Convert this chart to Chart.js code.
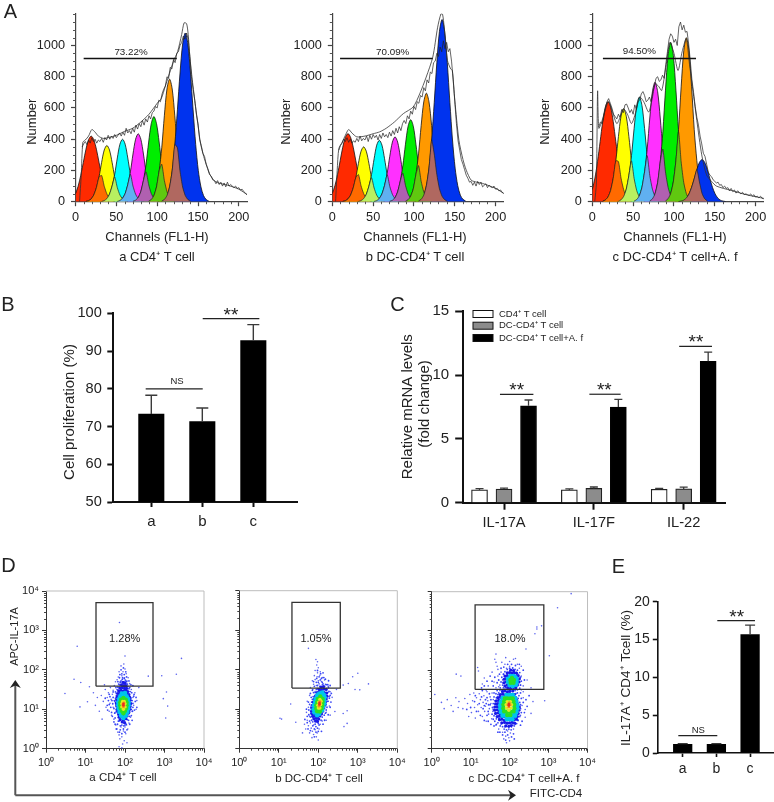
<!DOCTYPE html>
<html><head><meta charset="utf-8">
<script src="https://cdn.jsdelivr.net/npm/chart.js@4"></script>
<style>
html,body{margin:0;padding:0;background:#fff}
#page{position:relative;width:774px;height:802px;overflow:hidden;background:#fff;filter:blur(.3px)}
canvas{position:absolute;display:block}
svg{position:absolute;left:0;top:0;pointer-events:none}
</style></head><body><div id="page">
<svg width="774" height="802"><path d="M15.3 795.3V684M15.3 795.3H512" fill="none" stroke="#555" stroke-width="2"/>
<path d="M15.3 680l-5.5 8 5.5-2.5 5.5 2.5zM516 795.3l-8-5.5 2.5 5.5-2.5 5.5z" fill="#222"/></svg>
</div>
<script>
const FONT='"Liberation Sans", Arial, sans-serif';
const TXT='#222';

/* ---------- panel A: shared channel grid and ticks ---------- */
const channels=[0,3.2,6.4,9.6,12.8,16,19.2,22.4,25.6,28.8,32,35.2,38.4,41.6,44.8,48,51.2,54.4,57.6,60.8,64,67.2,70.4,73.6,76.8,80,83.2,86.4,89.6,92.8,96,99.2,102.4,105.6,108.8,112,115.2,118.4,121.6,124.8,128,131.2,134.4,137.6,140.8,144,147.2,150.4,153.6,156.8,160,163.2];
const rawChannels=[8,10,12,14,16,18,20,22,24,26,28,30,32,34,36,38,40,42,44,46,48,50,52,54,56,58,60,62,64,66,68,70,72,74,76,78,80,82,84,86,88,90,92,94,96,98,100,102,104,106,108,110,112,114,116,118,120,122,124,126,128,130,132,134,136,138,140,142,144,146,148,150,152,154,156,158,160,162,164,166,168,170,172,174,176,178,180,182,184,186,188,190,192,194,196,198,200,202,204,206,208,210];
const histXTicks=[0,50,100,150,200];
const histYTicks=[0,200,400,600,800,1000];
const histXMinor=[10,20,30,40,60,70,80,90,110,120,130,140,160,170,180,190];
const histYMinor=[50,100,150,250,300,350,450,500,550,650,700,750,850,900,950,1050,1100,1150,1200];
const peakColors=['#ff2a00','#ffff00','#00ffff','#ff30ff','#00ee00','#ff9900','#0033ee'];
const overlapColors=['#ff6a00','#b8f060','#60b0f0','#b060b0','#60c810','#b06860'];
const peakStarts=[0,4,10,16,22,28,33];

const aRed=[50,99,168,252,336,397,420,397,336,252,168,99,50,21,8,2];
const aYellow=[2,6,18,43,90,158,252,331,360,331,252,158,90,43,18,6,2];
const aCyan=[2,7,20,48,100,176,280,368,400,368,280,176,100,48,20,7,2];
const aMagenta=[2,8,22,52,109,191,305,400,435,400,305,191,109,52,22,8,2];
const aGreen=[3,10,27,65,136,240,382,501,545,501,382,240,136,65,27,10,3];
const aOrange=[4,14,39,94,196,345,550,722,785,722,550,345,196,94,39,14,4];
const aBlue=[4,14,39,95,199,366,588,824,1010,1080,1010,824,588,366,199,95,39,14,4];
const aFitX=[5,7,9,12,16,20,24,28,34,40,50,60,70,80,90,100,105,110,115,120,125,130,133,136,138,140,143,147,150,153,157,161,165,170,175,186,200,211];
const aFitY=[0,170,380,395,420,462,445,420,405,410,425,450,470,510,560,630,660,740,820,900,960,1070,1145,1140,1070,930,780,610,490,375,290,225,170,135,120,106,80,42];
const aRaw=[350,370,385,365,395,375,410,385,400,375,395,385,405,380,410,395,425,400,420,405,430,410,425,440,420,445,425,470,440,455,435,470,445,490,465,500,480,520,490,530,510,550,530,570,580,610,600,650,640,690,720,740,800,790,860,850,910,890,950,960,1000,1020,1060,1040,1080,1040,930,800,720,650,560,500,400,360,310,290,240,210,175,165,140,135,115,135,110,125,100,120,95,125,100,110,100,90,100,85,90,75,80,65,55,45];

const bRed=[52,102,174,262,349,412,436,412,349,262,174,102,52,22,9,2];
const bYellow=[2,6,18,42,88,154,246,323,351,323,246,154,88,42,18,6,2];
const bCyan=[2,7,20,47,98,173,275,362,393,362,275,173,98,47,20,7,2];
const bMagenta=[2,7,21,50,104,183,291,382,415,382,291,183,104,50,21,7,2];
const bGreen=[3,9,26,63,131,231,368,483,525,483,368,231,131,63,26,9,3];
const bOrange=[3,13,35,83,174,306,487,639,695,639,487,306,174,83,35,13,3];
const bBlue=[5,15,42,103,215,395,634,890,1090,1166,1090,890,634,395,215,103,42,15,5];
const bFitX=[4,6,8,12,16,20,24,30,40,50,58,66,76,87,99,107,115,123,129,133,135,137,141,145,147,150,155,160,164,170,177,184,200,210];
const bFitY=[0,200,340,380,425,462,440,415,420,435,447,470,510,564,606,690,798,925,1117,1202,1200,1117,904,850,840,650,394,270,202,138,125,117,85,53];
const bRaw=[330,360,375,400,385,410,380,400,375,390,380,405,385,420,390,405,395,420,385,425,400,430,410,425,395,430,405,440,415,430,410,445,420,455,430,470,440,480,455,500,520,500,550,530,580,560,610,590,640,630,680,670,730,710,780,760,830,820,890,900,950,930,990,960,1030,980,1020,960,980,900,780,640,500,390,330,270,240,205,170,150,125,130,105,125,100,130,110,125,95,105,115,90,105,95,90,100,80,85,70,75,60,52];

const cRed=[77,151,257,385,514,607,642,607,514,385,257,151,77,32,13,3];
const cYellow=[3,11,30,71,149,262,417,547,595,547,417,262,149,71,30,11,3];
const cCyan=[3,12,34,80,168,295,469,616,670,616,469,295,168,80,34,12,3];
const cMagenta=[4,14,38,92,191,337,536,704,765,704,536,337,191,92,38,14,4];
const cGreen=[5,18,51,122,255,449,714,938,1020,938,714,449,255,122,51,18,5];
const cOrange=[5,19,53,126,263,462,735,966,1050,966,735,462,263,126,53,19,5];
const cBlue=[1,4,10,24,50,92,147,206,252,270,252,206,147,92,50,24,10,4,1];
const cFitX=[3,5,6.5,8,12,16,20,25,30,34,38,43,48,53,58,63,69,73,77,81,85,90,95,100,105,110,115,119,122,128,134,140,146,152,170,190,211];
const cFitY=[0,120,708,470,520,590,640,570,500,540,595,560,500,570,670,640,574,650,755,740,712,860,1020,950,840,960,1042,880,760,520,300,170,130,100,72,43,20];
const cRaw=[480,510,500,540,600,640,660,630,600,560,545,530,560,540,590,570,620,625,600,570,590,560,620,590,640,650,690,705,680,640,650,670,640,700,740,790,800,770,780,810,790,880,960,1040,1075,1060,1020,1040,1000,1120,1150,1100,1130,1085,1090,1010,900,780,700,610,540,490,420,370,310,290,240,190,170,160,140,130,120,125,105,110,90,100,85,90,70,85,65,75,55,70,60,50,60,45,50,45,40,50,35,45,30,35,25,35,22,18];

/* ---------- panel B ---------- */
const bCategories=['a','b','c'];
const prolifValues=[73.3,71.3,92.8];
const prolifErrTop=[78.3,74.9,97];
const prolifTicks=[50,60,70,80,90,100];

/* ---------- panel C ---------- */
const cytokines=['IL-17A','IL-17F','IL-22'];
const groupNames=['CD4⁺ T cell','DC-CD4⁺ T cell','DC-CD4⁺ T cell+A. f'];
const mrnaCD4=[1.0,1.0,1.05];
const mrnaDC=[1.07,1.12,1.08];
const mrnaAf=[7.6,7.5,11.08];
const mrnaCD4Err=[1.1,1.08,1.12];
const mrnaDCErr=[1.15,1.23,1.22];
const mrnaAfErr=[8.05,8.1,11.8];
const mrnaTicks=[0,5,10,15];

/* ---------- panel E ---------- */
const il17Values=[1.15,1.15,15.65];
const il17ErrTop=[1.25,1.25,16.9];
const il17Ticks=[0,5,10,15,20];

/* ---------- panel D (log10 units) ---------- */
const logTicks=[0,1,2,3,4];
const logLabels=['10⁰','10¹','10²','10³','10⁴'];
const logMinor=[.301,.477,.602,.699,.778,.845,.903,.954,1.301,1.477,1.602,1.699,1.778,1.845,1.903,1.954,2.301,2.477,2.602,2.699,2.778,2.845,2.903,2.954,3.301,3.477,3.602,3.699,3.778,3.845,3.903,3.954];
const gateAX=[1.266,2.709,2.709,1.266,1.266],gateAY=[1.586,1.586,3.705,3.705,1.586];
const gateBX=[1.333,2.557,2.557,1.333,1.333],gateBY=[1.536,1.536,3.705,3.705,1.536];
const gateCX=[1.114,2.878,2.878,1.114,1.114],gateCY=[1.51,1.51,3.662,3.662,1.51];

const aSparse=[[.79,2.6],[1.86,3.2],[3.43,2.29],[2.0,2.35],[3.3,1.89],[2.93,1.85],[2.59,1.84],[.71,1.76],[.88,1.68],[1.1,1.57],[.48,1.4],[1.05,1.19],[.86,1.06],[3.05,1.44],[3.08,1.08],[3.03,.78],[2.97,1.27],[0,1.23],[1.4,1.35],[1.45,1.2],[1.5,1.5],[1.52,1.05],[1.55,1.3],[1.58,1.42],[1.6,.95],[1.62,1.15],[1.63,1.55],[1.65,1.25],[1.66,.85],[1.68,1.38],[1.7,1.48],[1.7,1.05],[1.72,.75],[1.73,1.6],[1.74,1.2],[1.75,.92],[1.76,1.7],[1.77,.6],[1.78,1.35],[1.8,.5],[1.8,1.75],[1.82,.42],[1.83,1.82],[1.85,.35],[1.85,1.95],[1.87,.25],[1.88,1.7],[1.9,.55],[1.9,2.1],[1.92,.3],[1.92,1.85],[1.94,.12],[1.95,1.95],[1.96,.45],[1.97,2.15],[1.98,.2],[1.99,1.8],[2.0,.55],[2.0,2.02],[2.02,.38],[2.03,1.9],[2.04,.6],[2.05,1.72],[2.07,.5],[2.08,1.8],[2.1,.65],[2.12,1.65],[2.14,.8],[2.16,1.5],[2.18,.95],[2.2,1.3],[2.22,1.1],[2.25,1.42],[2.28,1.0],[2.3,1.22],[2.35,1.55],[1.3,1.3],[1.25,1.1],[1.35,.95],[1.2,1.42],[1.42,.75],[1.48,1.62],[1.85,.05],[1.92,.02],[2.05,.15]];
const aMid=[[1.72,1.02],[2.18,1.22],[1.75,.78],[2.2,1.05],[1.7,1.3],[2.16,.84],[1.77,1.55],[2.17,1.42],[1.74,.9],[2.22,1.33],[1.69,1.14],[2.19,.95],[1.81,.62],[2.09,.72],[1.76,1.44],[2.15,1.62],[1.83,.7],[2.11,.82],[1.73,1.22],[2.2,1.15],[1.88,.58],[2.03,.62],[1.8,1.5],[2.1,1.52],[1.86,1.62],[2.06,1.64],[1.9,1.72],[2.01,1.74],[1.94,1.8],[1.97,.58],[1.92,.6],[2.0,.6],[1.85,.7],[2.06,.74],[1.78,.95],[2.16,1.0],[1.77,1.12],[2.16,1.12],[1.76,1.28],[2.15,1.28],[1.78,1.4],[2.13,1.45],[1.82,1.56],[2.07,1.58],[1.88,1.68],[2.0,1.7],[1.93,1.76],[1.98,1.78],[2.04,1.7],[1.84,1.64],[2.12,1.55],[1.67,1.22],[1.64,1.05],[2.24,.98],[1.62,1.32],[2.26,1.2],[1.66,.92],[1.6,1.12],[2.23,1.38],[1.68,.82],[2.18,.72],[1.72,.68],[1.7,1.44],[2.2,1.6],[1.75,.62],[2.12,.62],[1.78,.5],[2.05,.48],[1.88,.48],[1.96,.5],[1.86,.42],[2.0,.42],[1.92,.38],[1.82,1.7],[2.1,1.72],[1.86,1.8],[2.04,1.82],[1.92,1.9],[1.98,1.88],[1.9,2.0],[1.96,2.05],[2.02,1.95],[1.87,1.88],[1.55,1.1],[1.58,1.22],[1.6,1.38],[1.5,1.28],[1.56,.98],[2.28,1.3],[2.3,1.05]];
const aBlueDots=[[1.93,.68],[1.99,.66],[1.88,.74],[1.96,.73],[2.02,.76],[1.85,.8],[1.92,.82],[1.98,.79],[2.05,.83],[1.84,.87],[1.9,.88],[1.95,.85],[2.01,.88],[2.08,.9],[1.82,.93],[1.88,.95],[1.93,.92],[2.0,.95],[2.05,.96],[2.1,.93],[1.8,1.0],[1.85,1.02],[2.06,1.03],[2.12,1.0],[1.79,1.08],[1.84,1.1],[2.08,1.1],[2.13,1.07],[1.78,1.16],[1.83,1.18],[2.08,1.17],[2.14,1.15],[1.79,1.24],[1.84,1.26],[2.08,1.25],[2.13,1.23],[1.8,1.32],[1.85,1.34],[2.06,1.32],[2.12,1.3],[1.82,1.4],[1.87,1.41],[1.94,1.4],[2.0,1.42],[2.05,1.39],[2.1,1.37],[1.84,1.47],[1.9,1.48],[1.96,1.46],[2.02,1.48],[2.07,1.45],[1.87,1.54],[1.93,1.55],[1.99,1.53],[2.04,1.53],[1.91,1.62],[1.97,1.6],[2.02,1.6],[1.95,1.68],[2.0,1.66]];
const aCyanDots=[[1.96,.78],[1.9,.84],[2.02,.84],[1.86,.93],[1.96,.9],[2.06,.93],[1.84,1.02],[1.92,1.0],[2.0,1.0],[2.08,1.02],[1.83,1.1],[2.09,1.1],[1.83,1.18],[2.09,1.18],[1.85,1.26],[1.92,1.27],[2.0,1.27],[2.08,1.26],[1.88,1.33],[1.96,1.35],[2.04,1.33],[1.92,1.4],[2.0,1.41],[1.9,.92],[2.02,.92]];
const aGreenDots=[[1.96,.9],[1.92,.96],[2.0,.96],[1.89,1.03],[2.03,1.03],[1.88,1.1],[2.04,1.1],[1.88,1.17],[2.04,1.17],[1.9,1.24],[2.02,1.24],[1.96,1.29],[1.96,1.2]];
const aYellowDots=[[1.96,1.0],[1.92,1.06],[2.0,1.06],[1.92,1.14],[2.0,1.14],[1.94,1.2],[1.98,1.2]];
const aOrangeDots=[[1.96,1.07],[1.95,1.13],[1.97,1.16]];
const aRedDots=[[1.96,1.1],[1.96,1.14]];

const bSparse=[[1.75,2.54],[1.94,2.26],[1.98,2.2],[1.03,.77],[1.07,.75],[1.3,1.13],[1.43,.67],[3.0,1.91],[2.87,1.82],[3.27,1.64],[3.05,1.49],[2.93,1.5],[2.76,1.65],[2.63,1.61],[2.46,1.5],[2.42,.94],[2.73,.96],[2.63,.89],[2.73,.64],[2.65,.56],[2.3,1.44],[2.35,1.3],[2.28,1.08],[2.3,.85],[2.2,.72],[1.96,2.12],[2.0,2.05],[1.92,1.98],[1.98,1.92],[2.05,1.95],[1.9,1.85],[1.97,1.82],[2.04,1.86],[2.1,1.8],[1.85,1.72],[1.92,1.75],[2.0,1.72],[2.08,1.7],[2.16,1.74],[1.88,1.63],[1.95,1.6],[2.02,1.64],[2.1,1.62],[2.18,1.63],[2.25,1.58],[1.8,1.55],[1.86,1.5],[1.92,1.45],[1.78,1.35],[1.72,1.2],[1.75,1.05],[1.7,.92],[1.78,.82],[1.72,.72],[1.8,.65],[1.75,.58],[1.82,.52],[1.68,.5],[1.88,.6],[1.85,.44],[1.78,.4],[1.92,.48],[1.88,.36],[1.97,.4],[1.84,.28],[1.95,.3],[2.02,.5],[2.05,.62],[2.1,.7],[2.0,.22],[1.6,.4],[1.65,.62],[2.25,1.2],[2.28,1.32],[2.2,.92]];
const bMid=[[1.76,.98],[2.28,1.28],[1.8,.8],[2.22,1.05],[1.78,1.12],[2.24,1.42],[1.85,1.25],[2.27,1.45],[1.83,.72],[2.15,.85],[1.76,.86],[2.2,.98],[1.86,.68],[2.07,.72],[1.82,1.3],[2.3,1.35],[1.88,1.42],[2.26,1.55],[1.95,1.5],[2.2,1.62],[1.98,1.6],[2.1,1.68],[2.05,1.74],[2.0,1.68],[1.92,.62],[2.0,.64],[1.88,.74],[2.1,.8],[1.81,.9],[2.18,.9],[1.81,1.05],[2.2,1.12],[1.83,1.18],[2.24,1.2],[1.87,1.32],[1.92,1.42],[1.98,1.52],[2.16,1.58],[2.24,1.62],[2.04,1.58],[2.12,1.64],[1.94,.56],[1.98,.52],[2.02,.6],[1.9,.5],[1.86,.58],[1.78,.7],[2.12,.62],[2.16,.72],[2.25,.86],[1.72,.82],[1.7,1.0],[2.3,1.05],[2.32,1.18],[1.75,1.18],[1.8,1.4],[1.85,1.48],[2.33,1.4],[2.3,1.6],[1.9,1.58],[1.95,1.68],[2.08,1.78],[2.14,1.8],[2.02,1.82],[1.96,1.78],[2.06,1.9],[1.98,1.98],[2.12,1.92],[2.0,.44],[1.94,.42],[1.9,.3],[1.8,.46],[1.74,.5],[2.08,.44],[1.72,.66],[1.66,.74],[2.18,1.76],[2.26,1.72],[1.88,1.7]];
const bBlueDots=[[1.93,.7],[1.98,.69],[1.89,.76],[1.95,.77],[2.01,.75],[1.86,.82],[1.92,.83],[1.98,.81],[2.04,.83],[1.84,.88],[1.9,.89],[1.96,.87],[2.02,.89],[2.08,.88],[1.83,.95],[1.89,.96],[2.05,.94],[2.11,.95],[1.84,1.02],[1.89,1.03],[2.08,1.01],[2.14,1.03],[1.85,1.1],[1.91,1.11],[2.1,1.09],[2.16,1.1],[1.87,1.18],[1.93,1.19],[2.12,1.17],[2.18,1.18],[1.9,1.26],[1.96,1.27],[2.14,1.25],[2.2,1.26],[1.93,1.34],[1.99,1.35],[2.05,1.33],[2.11,1.34],[2.17,1.35],[2.22,1.33],[1.97,1.42],[2.03,1.43],[2.09,1.41],[2.15,1.42],[2.21,1.41],[2.02,1.5],[2.08,1.49],[2.14,1.51],[2.2,1.5],[2.07,1.56],[2.13,1.57]];
const bCyanDots=[[1.97,.85],[1.9,.92],[2.02,.88],[2.1,.98],[1.88,1.0],[2.12,1.06],[1.89,1.1],[2.15,1.14],[1.92,1.18],[2.15,1.22],[1.93,1.26],[2.16,1.3],[1.97,1.34],[2.14,1.36],[2.05,1.4],[2.0,1.38],[2.1,1.42],[1.96,.96],[2.05,.94]];
const bGreenDots=[[1.97,.95],[2.04,.94],[1.95,1.02],[2.08,1.02],[1.95,1.1],[2.1,1.1],[1.97,1.18],[2.11,1.18],[1.99,1.26],[2.11,1.26],[2.05,1.32]];
const bYellowDots=[[2.0,1.03],[2.04,1.03],[1.99,1.1],[2.06,1.12],[2.01,1.18],[2.07,1.2],[2.04,1.25]];
const bOrangeDots=[[2.02,1.08],[2.03,1.14],[2.04,1.19]];
const bRedDots=[[2.03,1.12],[2.03,1.16]];

const cSparse=[[.25,1.18],[.32,1.02],[.4,1.25],[.5,1.1],[.55,.95],[.62,1.3],[.7,1.2],[.68,1.05],[.8,1.02],[.85,1.28],[.75,1.85],[.92,1.15],[.95,.82],[.98,1.38],[1.02,.92],[1.05,1.22],[1.08,1.42],[1.1,1.05],[1.12,.78],[1.15,1.3],[1.18,1.12],[1.2,.95],[1.22,1.4],[1.25,1.25],[1.27,1.05],[1.3,.82],[1.32,1.18],[1.34,1.35],[1.36,.95],[1.38,1.08],[1.4,.7],[1.42,1.45],[1.44,1.22],[1.46,.88],[1.48,1.02],[1.5,1.32],[1.52,1.15],[1.54,.76],[1.55,1.42],[1.57,.95],[1.58,1.25],[1.2,1.98],[1.3,1.65],[1.35,1.8],[1.45,1.6],[1.55,1.95],[1.6,1.7],[1.65,1.55],[1.68,2.1],[1.7,1.85],[1.75,1.62],[1.78,1.95],[1.8,2.2],[1.82,1.75],[1.62,2.28],[1.7,2.02],[1.65,2.2],[1.9,2.32],[2.0,2.22],[2.1,2.28],[2.2,2.15],[2.15,2.3],[2.3,2.1],[2.3,1.85],[2.35,1.6],[2.45,1.75],[2.55,1.55],[2.7,3.1],[2.82,3.13],[2.65,2.93],[2.42,2.54],[3.23,3.59],[3.58,3.95],[2.7,3.05],[3.02,2.37],[1.65,2.41],[1.18,2.07],[.63,1.9],[.08,1.38],[2.6,1.2],[2.9,1.22],[2.55,.9],[2.4,.8],[2.35,1.3],[2.4,1.0],[2.35,1.45],[1.65,.6],[1.72,.5],[1.78,.62],[1.82,.42],[1.88,.55],[1.9,.32],[1.95,.45],[1.98,.28],[2.02,.4],[1.85,.25],[2.05,.55],[2.1,.5],[2.15,.62],[2.0,.2],[1.92,.15],[2.2,.72],[2.28,.85],[1.85,1.9],[1.92,2.05],[2.0,2.1],[2.08,2.05],[2.18,1.95],[2.25,2.05],[1.88,2.15],[1.75,1.48],[1.72,1.58],[2.3,1.5],[2.28,1.62],[2.32,1.1]];
const cMid=[[1.5,1.12],[1.55,.88],[1.56,1.05],[1.6,1.32],[1.58,.75],[1.62,.7],[1.66,.62],[1.6,1.42],[1.65,1.4],[1.68,1.48],[1.72,1.42],[1.78,1.5],[1.52,1.25],[1.46,1.12],[1.45,.95],[1.42,1.3],[1.4,1.15],[1.38,1.25],[1.35,1.1],[1.48,1.4],[2.26,1.18],[2.28,1.02],[2.3,.92],[2.26,.82],[2.22,.72],[2.18,.64],[2.12,.58],[2.3,1.28],[2.24,1.35],[2.2,1.42],[2.14,1.48],[2.28,1.42],[1.7,.66],[1.76,.58],[1.82,.56],[1.86,.5],[1.92,.48],[1.98,.5],[2.04,.48],[2.08,.6],[1.72,.78],[1.66,.76],[1.6,.84],[1.58,1.0],[1.58,1.15],[1.62,1.22],[1.66,1.3],[1.7,1.38],[1.74,1.34],[2.22,1.28],[2.28,1.12],[2.16,1.4],[1.8,1.45],[1.76,1.55],[1.84,1.55],[1.88,1.52],[1.82,1.62],[1.78,1.7],[1.8,1.82],[1.84,1.9],[1.88,1.96],[1.94,2.02],[2.0,2.05],[2.08,2.06],[2.14,2.02],[2.2,2.0],[2.26,1.94],[2.28,1.82],[2.3,1.72],[2.28,1.62],[2.26,1.54],[2.2,1.5],[2.02,1.48],[1.96,1.5],[1.9,1.56],[1.72,1.75],[1.74,1.9],[1.78,2.05],[1.85,2.08],[1.95,2.15],[2.05,2.15],[2.15,2.12],[2.25,2.15],[2.35,2.0],[2.38,1.75],[1.68,1.68],[1.62,1.82],[1.55,1.72],[1.5,1.85],[1.42,1.72],[1.58,1.6],[1.4,1.5],[1.3,1.48],[1.28,1.55],[1.35,1.6],[1.75,.42],[1.82,.35],[1.9,.22],[1.95,.35],[2.05,.3],[2.1,.38],[2.12,.25],[1.88,.42],[1.7,.42],[1.6,.58],[1.52,.62],[1.45,.7],[1.35,.72],[1.25,.85],[1.15,.95],[1.0,1.05],[.9,1.0],[1.1,1.2],[1.12,1.35],[1.28,1.32],[1.22,1.15],[1.32,1.02],[1.42,.85],[2.35,1.18],[2.42,1.25],[2.45,1.08],[2.5,1.35],[2.38,.92],[2.32,.7],[2.28,.6]];
const cBlueDots=[[1.9,.58],[1.98,.57],[2.04,.59],[1.8,.66],[1.87,.67],[1.94,.65],[2.0,.66],[2.07,.67],[2.13,.65],[1.74,.74],[1.8,.75],[1.86,.73],[1.92,.74],[1.99,.75],[2.05,.73],[2.12,.74],[2.18,.75],[1.68,.82],[1.74,.83],[1.8,.81],[1.86,.82],[2.08,.83],[2.14,.81],[2.2,.82],[1.64,.9],[1.7,.91],[1.76,.89],[1.82,.9],[2.1,.91],[2.16,.89],[2.22,.9],[1.62,.98],[1.68,.99],[1.74,.97],[1.8,.98],[2.12,.99],[2.18,.97],[2.24,.98],[1.62,1.06],[1.68,1.07],[1.74,1.05],[1.8,1.06],[2.14,1.07],[2.2,1.05],[2.25,1.06],[1.64,1.14],[1.7,1.15],[1.76,1.13],[2.14,1.14],[2.2,1.15],[1.66,1.22],[1.72,1.23],[1.78,1.21],[2.12,1.22],[2.18,1.23],[1.7,1.3],[1.76,1.31],[1.82,1.29],[1.88,1.3],[2.04,1.31],[2.1,1.29],[2.16,1.3],[1.76,1.38],[1.82,1.39],[1.88,1.37],[1.94,1.38],[2.0,1.39],[2.06,1.37],[2.12,1.38],[1.82,1.46],[1.88,1.47],[1.94,1.45],[2.0,1.46],[2.08,1.47],[1.95,1.55],[2.02,1.54],[2.1,1.56],[2.16,1.55],[1.88,1.6],[1.94,1.62],[2.0,1.6],[2.14,1.61],[2.2,1.62],[1.85,1.68],[1.9,1.7],[2.2,1.69],[2.24,1.7],[1.86,1.77],[1.9,1.78],[2.2,1.76],[2.25,1.78],[1.88,1.85],[1.94,1.86],[2.0,1.84],[2.06,1.86],[2.12,1.85],[2.18,1.84],[2.22,1.86],[1.94,1.93],[2.0,1.94],[2.06,1.92],[2.12,1.94],[2.18,1.92],[2.03,2.0],[2.1,1.99]];
const cCyanDots=[[1.93,.75],[2.0,.75],[2.07,.75],[1.82,.84],[1.9,.84],[1.98,.84],[2.06,.84],[2.14,.84],[1.78,.93],[1.86,.93],[2.1,.93],[2.17,.93],[1.76,1.02],[1.84,1.02],[2.12,1.02],[2.2,1.02],[1.76,1.11],[1.84,1.11],[2.12,1.11],[2.2,1.11],[1.78,1.2],[1.86,1.2],[2.1,1.2],[2.17,1.2],[1.82,1.29],[1.9,1.29],[1.98,1.29],[2.06,1.29],[2.14,1.29],[1.92,1.37],[2.0,1.37],[2.08,1.37],[2.0,1.62],[2.08,1.6],[2.16,1.63],[1.96,1.7],[2.18,1.7],[1.96,1.78],[2.18,1.78],[2.02,1.85],[2.1,1.85],[2.15,1.82]];
const cGreenDots=[[1.94,.86],[2.02,.86],[1.86,.95],[1.94,.95],[2.02,.95],[2.1,.95],[1.84,1.03],[2.12,1.03],[1.84,1.12],[2.12,1.12],[1.86,1.2],[2.1,1.2],[1.88,1.28],[1.94,1.28],[2.02,1.28],[2.08,1.28],[1.92,1.2],[2.04,1.2],[2.03,1.68],[2.1,1.68],[2.02,1.75],[2.11,1.75],[2.06,1.8],[2.07,1.72]];
const cYellowDots=[[1.98,.98],[1.92,1.04],[2.04,1.04],[1.91,1.12],[2.05,1.12],[1.94,1.2],[2.02,1.2]];
const cOrangeDots=[[1.98,1.06],[1.96,1.12],[2.01,1.12],[1.99,1.17]];
const cRedDots=[[1.98,1.1],[1.98,1.14]];

/* ---------- helpers ---------- */
function overlayPlugin(spec){
  return {id:'overlay',
    afterDatasetsDraw(chart){
      const c=chart.ctx,a=chart.chartArea,sx=chart.scales.x,sy=chart.scales.y;
      c.save();
      if(spec.minor){
        c.strokeStyle=spec.minor.color;c.lineWidth=1;c.beginPath();
        spec.minor.y.forEach(v=>{const p=Math.round(sy.getPixelForValue(v))+.5;c.moveTo(a.left,p);c.lineTo(a.left-spec.minor.len,p);});
        spec.minor.x.forEach(v=>{const p=Math.round(sx.getPixelForValue(v))+.5;c.moveTo(p,a.bottom);c.lineTo(p,a.bottom+spec.minor.len);});
        c.stroke();
      }
      if(spec.frame){
        c.strokeStyle='#bdbdbd';c.lineWidth=1;c.beginPath();
        c.moveTo(a.left,a.top);c.lineTo(a.right,a.top);c.lineTo(a.right,a.bottom);c.stroke();
      }
      (spec.errors||[]).forEach(e=>{
        const x=sx.getPixelForValue(e.x),y0=sy.getPixelForValue(e.base),y1=sy.getPixelForValue(e.top);
        c.strokeStyle='#3a3a3a';c.lineWidth=spec.errWidth||1.3;c.beginPath();
        c.moveTo(x,y0);c.lineTo(x,y1);c.moveTo(x-spec.cap,y1);c.lineTo(x+spec.cap,y1);c.stroke();
      });
      (spec.brackets||[]).forEach(b=>{
        const y=sy.getPixelForValue(b.y);
        c.strokeStyle='#222';c.lineWidth=1.2;c.beginPath();
        c.moveTo(sx.getPixelForValue(b.x0),y);c.lineTo(sx.getPixelForValue(b.x1),y);c.stroke();
      });
      (spec.legend||[]).forEach(l=>{
        c.fillStyle=l.color;c.strokeStyle='#111';c.lineWidth=1;
        c.fillRect(l.x-spec.ox,l.y-3.5-spec.oy,20,7);c.strokeRect(l.x-spec.ox,l.y-3.5-spec.oy,20,7);
        c.fillStyle=TXT;c.font='9.5px '+FONT;c.textAlign='left';c.textBaseline='middle';
        c.fillText(l.t,l.x+26-spec.ox,l.y-spec.oy);
      });
      (spec.notes||[]).forEach(n=>{
        c.save();c.translate(n.x-spec.ox,n.y-spec.oy);if(n.rot)c.rotate(n.rot);
        c.fillStyle=n.color||TXT;c.font=(n.size||13)+'px '+FONT;c.textAlign='center';c.textBaseline='middle';
        c.fillText(n.t,0,0);c.restore();
      });
      c.restore();
    }};
}
function makeChart(box,plot,cfg,spec){
  const cv=document.createElement('canvas');
  const W=box[2]-box[0],H=box[3]-box[1];
  cv.width=W;cv.height=H;cv.style.cssText=`left:${box[0]}px;top:${box[1]}px;width:${W}px;height:${H}px`;
  document.getElementById('page').insertBefore(cv,document.querySelector('svg'));
  spec.ox=box[0];spec.oy=box[1];
  cfg.options=Object.assign({responsive:false,animation:false,events:[],devicePixelRatio:1,maintainAspectRatio:false,
    layout:{autoPadding:false,padding:{left:0,top:plot[1]-box[1],right:box[2]-plot[2],bottom:0}},
    plugins:{legend:{display:false},tooltip:{enabled:false}}},cfg.options);
  cfg.options.scales.x.afterFit=s=>{s.height=box[3]-plot[3];};
  cfg.options.scales.y.afterFit=s=>{s.width=plot[0]-box[0];};
  cfg.plugins=[overlayPlugin(spec)];
  return new Chart(cv,cfg);
}
function axis(o){
  return {type:'linear',min:o.min,max:o.max,offset:false,position:o.pos,
    grid:{offset:false,drawOnChartArea:false,drawTicks:true,tickLength:o.len,tickWidth:o.width,tickColor:o.color,color:o.color},
    border:{display:true,color:o.color,width:o.width},
    afterBuildTicks:s=>{s.ticks=o.ticks.map(v=>({value:v}));},
    ticks:{autoSkip:false,maxRotation:0,minRotation:0,padding:o.pad,color:TXT,font:{family:FONT,size:o.size},callback:o.label}};
}
const sup=(a,b)=>a.map((y,i)=>({x:b[i],y}));

/* ---------- panel A ---------- */
function histogram(box,plot,peaks,fitX,fitY,raw,gate,spec){
  const series=peaks.map((vals,p)=>{const m={};vals.forEach((y,i)=>{m[peakStarts[p]+i]=y;});return m;});
  const ds=[];
  series.forEach((m,p)=>ds.push({data:Object.keys(m).map(k=>({x:channels[k],y:m[k]})),backgroundColor:peakColors[p],borderColor:'#111',borderWidth:.8,fill:'origin',tension:.3,pointRadius:0}));
  for(let p=0;p<6;p++){
    const a=series[p],b=series[p+1],d=[];
    Object.keys(a).forEach(k=>{if(k in b)d.push({x:channels[k],y:Math.min(a[k],b[k])});});
    ds.push({data:d,backgroundColor:overlapColors[p],borderColor:'#222',borderWidth:.7,fill:'origin',tension:.2,pointRadius:0});
  }
  ds.push({data:sup(fitY,fitX),borderColor:'#333',borderWidth:.8,fill:false,tension:.25,pointRadius:0});
  ds.push({data:sup(raw,rawChannels),borderColor:'#222',borderWidth:.7,fill:false,tension:0,pointRadius:0});
  ds.push({data:gate,borderColor:'#111',borderWidth:1.4,fill:false,tension:0,pointRadius:0});
  ds.forEach((d,i)=>d.order=100-i);
  spec.minor={x:histXMinor,y:histYMinor,len:2.5,color:'#555'};
  makeChart(box,plot,{type:'line',data:{datasets:ds},options:{scales:{
    x:axis({min:0,max:210,pos:'bottom',ticks:histXTicks,len:4.5,width:1.2,color:'#444',pad:4,size:12.7,label:v=>String(v)}),
    y:axis({min:0,max:1204,pos:'left',ticks:histYTicks,len:4.5,width:1.2,color:'#444',pad:6,size:12.7,label:v=>String(v)})
  }}},spec);
}
const capsA=['a CD4⁺ T cell','b DC-CD4⁺ T cell','c DC-CD4⁺ T cell+A. f'];
histogram([0,0,262,272],[75.5,13,247,201.7],[aRed,aYellow,aCyan,aMagenta,aGreen,aOrange,aBlue],aFitX,aFitY,aRaw,[{x:10,y:917},{x:124,y:917}],
 {notes:[{t:'A',x:10.5,y:12,size:20},{t:'Number',x:32.7,y:121.7,size:13,rot:-Math.PI/2},{t:'Channels (FL1-H)',x:157,y:237.5,size:13},{t:capsA[0],x:157,y:257,size:13},{t:'73.22%',x:131,y:52,size:9.8}]});
histogram([262,0,518,272],[332.3,13,503.8,201.7],[bRed,bYellow,bCyan,bMagenta,bGreen,bOrange,bBlue],bFitX,bFitY,bRaw,[{x:9.5,y:917},{x:123,y:917}],
 {notes:[{t:'Number',x:286.7,y:121.7,size:13,rot:-Math.PI/2},{t:'Channels (FL1-H)',x:415,y:237.5,size:13},{t:capsA[1],x:415,y:257,size:13},{t:'70.09%',x:392.7,y:52,size:9.8}]});
histogram([518,0,774,272],[592.3,13,763.8,201.7],[cRed,cYellow,cCyan,cMagenta,cGreen,cOrange,cBlue],cFitX,cFitY,cRaw,[{x:13,y:917},{x:127,y:917}],
 {notes:[{t:'Number',x:545,y:121.7,size:13,rot:-Math.PI/2},{t:'Channels (FL1-H)',x:675,y:237.5,size:13},{t:capsA[2],x:675,y:257,size:13},{t:'94.50%',x:639.3,y:51,size:9.8}]});

/* ---------- panel B ---------- */
const barX=[0,1,2];
makeChart([0,285,385,535],[113.3,313.3,297.7,502],{type:'bar',data:{datasets:[
  {data:sup(prolifValues,barX),backgroundColor:'#000',barThickness:25.4,grouped:false}]},
  options:{scales:{
    x:axis({min:-.745,max:2.87,pos:'bottom',ticks:barX,len:5,width:2,color:'#111',pad:6,size:15,label:v=>bCategories[v]}),
    y:axis({min:50,max:100,pos:'left',ticks:prolifTicks,len:6,width:2,color:'#111',pad:5.5,size:14.6,label:v=>String(v)})
  }}},
  {errors:barX.map(i=>({x:i,base:prolifValues[i],top:prolifErrTop[i]})),cap:6,errWidth:1.4,
   brackets:[{x0:-.11,x1:1.008,y:80},{x0:1.008,x1:2.118,y:98.6}],
   notes:[{t:'B',x:8,y:305,size:20},{t:'Cell proliferation (%)',x:70,y:412,size:15,rot:-Math.PI/2},{t:'NS',x:177,y:381.7,size:9.5},{t:'**',x:231,y:316,size:19}]});

/* ---------- panel C ---------- */
const off=.2727;
makeChart([385,285,774,535],[462.7,311.3,725,502.7],{type:'bar',data:{datasets:[
  {data:sup(mrnaCD4,barX.map(i=>i-off)),backgroundColor:'#fff',borderColor:'#222',borderWidth:1.2,barThickness:16,grouped:false},
  {data:sup(mrnaDC,barX),backgroundColor:'#8c8c8c',borderColor:'#222',borderWidth:1.2,barThickness:16,grouped:false},
  {data:sup(mrnaAf,barX.map(i=>i+off)),backgroundColor:'#000',borderColor:'#000',borderWidth:1,barThickness:16,grouped:false}]},
  options:{scales:{
    x:axis({min:-.46,max:2.46,pos:'bottom',ticks:barX,len:7,width:2,color:'#111',pad:4,size:14.7,label:v=>cytokines[v]}),
    y:axis({min:0,max:15,pos:'left',ticks:mrnaTicks,len:7.5,width:2,color:'#111',pad:6,size:15,label:v=>String(v)})
  }}},
  {errors:[].concat(barX.map(i=>({x:i-off,base:mrnaCD4[i],top:mrnaCD4Err[i]})),barX.map(i=>({x:i,base:mrnaDC[i],top:mrnaDCErr[i]})),barX.map(i=>({x:i+off,base:mrnaAf[i],top:mrnaAfErr[i]}))),cap:4,errWidth:1.3,
   brackets:[{x0:-.045,x1:.327,y:8.49},{x0:.95,x1:1.298,y:8.5},{x0:1.95,x1:2.315,y:12.25}],
   legend:[{t:groupNames[0],color:'#fff',x:473,y:314},{t:groupNames[1],color:'#8c8c8c',x:473,y:325.7},{t:groupNames[2],color:'#000',x:473,y:338}],
   notes:[{t:'C',x:397.5,y:305,size:20},{t:'Relative mRNA levels',x:408.3,y:406.7,size:15,rot:-Math.PI/2},{t:'(fold change)',x:425,y:404,size:15,rot:-Math.PI/2},{t:'**',x:516.7,y:391,size:19},{t:'**',x:604.3,y:391,size:19},{t:'**',x:696,y:343,size:19}]});

/* ---------- panel D ---------- */
const D_COLORS={sparse:'rgba(50,60,235,.8)',mid:'rgba(35,50,245,.9)',blue:'#1818e8',cyan:'#00c4ec',green:'#2ee022',yellow:'#e6ea20',orange:'#f09020',red:'#e83020'};
function pts(a){return a.map(p=>({x:p[0],y:p[1]}));}
function flow(box,plot,gateX,gateY,sets,yLabels,spec){
  const ds=[
    {data:pts(sets[0]),pointRadius:.8,backgroundColor:D_COLORS.sparse,borderWidth:0},
    {data:pts(sets[1]),pointRadius:.9,backgroundColor:D_COLORS.mid,borderWidth:0},
    {data:pts(sets[2]),pointRadius:1.6,backgroundColor:D_COLORS.blue,borderWidth:0},
    {data:pts(sets[3]),pointRadius:2.3,backgroundColor:D_COLORS.cyan,borderWidth:0},
    {data:pts(sets[4]),pointRadius:2.2,backgroundColor:D_COLORS.green,borderWidth:0},
    {data:pts(sets[5]),pointRadius:1.7,backgroundColor:D_COLORS.yellow,borderWidth:0},
    {data:pts(sets[6]),pointRadius:1.5,backgroundColor:D_COLORS.orange,borderWidth:0},
    {data:pts(sets[7]),pointRadius:1.3,backgroundColor:D_COLORS.red,borderWidth:0},
    {data:sup(gateY,gateX),showLine:true,borderColor:'#333',borderWidth:1.3,pointRadius:0,fill:false}
  ];
  ds.forEach((d,i)=>d.order=100-i);
  spec.minor={x:logMinor,y:logMinor,len:2,color:'#444'};spec.frame=true;
  makeChart(box,plot,{type:'scatter',data:{datasets:ds},options:{scales:{
    x:axis({min:0,max:4,pos:'bottom',ticks:logTicks,len:4,width:1,color:'#333',pad:4,size:11,label:v=>logLabels[v]}),
    y:axis({min:0,max:4,pos:'left',ticks:logTicks,len:4,width:1,color:'#333',pad:3,size:11,label:v=>yLabels?logLabels[v]:''})
  }}},spec);
}
flow([0,552,222,802],[46,591,204,748.7],gateAX,gateAY,[aSparse,aMid,aBlueDots,aCyanDots,aGreenDots,aYellowDots,aOrangeDots,aRedDots],true,
 {notes:[{t:'D',x:8.5,y:566,size:20},{t:'APC-IL-17A',x:15,y:636.5,size:11,rot:-Math.PI/2},{t:'a CD4⁺ T cell',x:123,y:778,size:11.5},{t:'1.28%',x:124.7,y:639,size:11}]});
flow([222,552,410,802],[239.3,590.7,397.3,748.7],gateBX,gateBY,[bSparse,bMid,bBlueDots,bCyanDots,bGreenDots,bYellowDots,bOrangeDots,bRedDots],false,
 {notes:[{t:'b DC-CD4⁺ T cell',x:319,y:779,size:11.5},{t:'1.05%',x:316,y:639,size:11}]});
flow([410,552,600,802],[431.7,591.7,589.7,748.7],gateCX,gateCY,[cSparse,cMid,cBlueDots,cCyanDots,cGreenDots,cYellowDots,cOrangeDots,cRedDots],false,
 {notes:[{t:'c DC-CD4⁺ T cell+A. f',x:524,y:779,size:11.5},{t:'18.0%',x:510,y:639,size:11},{t:'FITC-CD4',x:556,y:794,size:11.5}]});

/* ---------- panel E ---------- */
makeChart([600,552,774,802],[658.3,601.7,773,753],{type:'bar',data:{datasets:[
  {data:sup(il17Values,barX),backgroundColor:'#000',barThickness:18.6,grouped:false}]},
  options:{scales:{
    x:axis({min:-.724,max:2.68,pos:'bottom',ticks:barX,len:4,width:1.6,color:'#111',pad:4,size:14,label:v=>bCategories[v]}),
    y:axis({min:0,max:20,pos:'left',ticks:il17Ticks,len:5.5,width:1.6,color:'#111',pad:3,size:14,label:v=>String(v)})
  }}},
  {errors:barX.map(i=>({x:i,base:il17Values[i],top:il17ErrTop[i]})),cap:5,errWidth:1.3,
   brackets:[{x0:-.13,x1:1.027,y:2.3},{x0:1.027,x1:2.145,y:17.5}],
   notes:[{t:'E',x:618.5,y:567,size:20},{t:'IL-17A⁺ CD4⁺ Tcell (%)',x:626.7,y:678,size:13.5,rot:-Math.PI/2},{t:'NS',x:698.3,y:730,size:9.5},{t:'**',x:736.7,y:618,size:19}]});
</script></body></html>
